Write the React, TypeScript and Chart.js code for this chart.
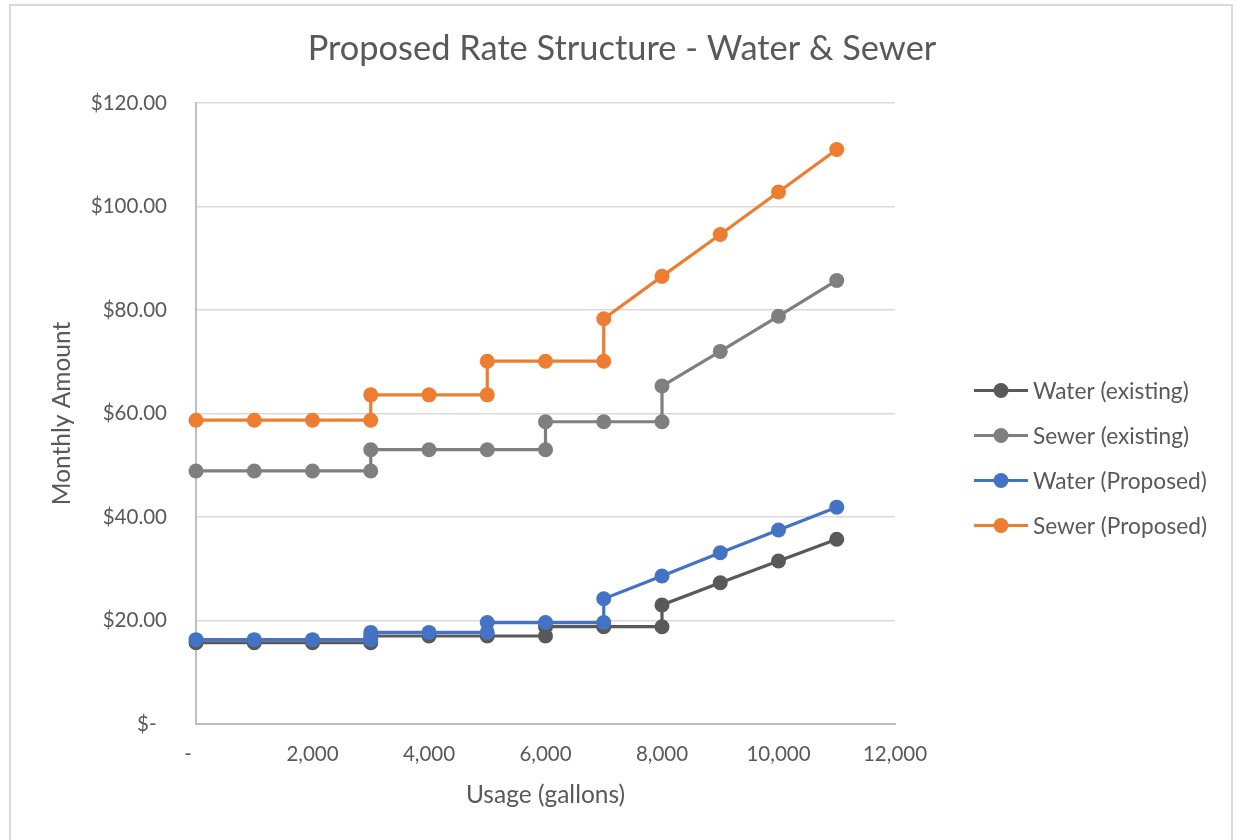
import React, { useEffect, useRef } from 'react';
import { Chart, registerables } from 'chart.js';

Chart.register(...registerables);

const chartTitle = 'Proposed Rate Structure - Water & Sewer';
const xAxisTitle = 'Usage (gallons)';
const yAxisTitle = 'Monthly Amount';

const seriesLabels = ['Water (existing)', 'Sewer (existing)', 'Water (Proposed)', 'Sewer (Proposed)'];
const seriesColors = ['#595959', '#7F7F7F', '#4472C4', '#ED7D31'];

const usageExisting = [0, 1000, 2000, 3000, 3000, 4000, 5000, 6000, 6000, 7000, 8000, 8000, 9000, 10000, 11000];
const waterExisting = [15.7, 15.7, 15.7, 15.7, 17.0, 17.0, 17.0, 17.0, 18.8, 18.8, 18.8, 23.0, 27.3, 31.5, 35.7];
const sewerExisting = [48.9, 48.9, 48.9, 48.9, 53.0, 53.0, 53.0, 53.0, 58.4, 58.4, 58.4, 65.3, 72.0, 78.8, 85.7];

const usageProposed = [0, 1000, 2000, 3000, 3000, 4000, 5000, 5000, 6000, 7000, 7000, 8000, 9000, 10000, 11000];
const waterProposed = [16.3, 16.3, 16.3, 16.3, 17.7, 17.7, 17.7, 19.6, 19.6, 19.6, 24.2, 28.6, 33.1, 37.5, 41.9];
const sewerProposed = [58.7, 58.7, 58.7, 58.7, 63.6, 63.6, 63.6, 70.1, 70.1, 70.1, 78.3, 86.5, 94.6, 102.8, 111.0];

const xMin = 0;
const xMax = 12000;
const xStep = 2000;
const yMin = 0;
const yMax = 120;
const yStep = 20;

const FONT = 'Lato';
const TEXT = '#595959';

const toPoints = (xs: number[], ys: number[]) => xs.map((x, i) => ({ x, y: ys[i] }));

const sideLegend = {
  id: 'sideLegend',
  afterDraw(chart: any) {
    const { ctx, chartArea } = chart;
    const x0 = chartArea.right + 79;
    const yMid = 458;
    const gap = 45;
    const n = chart.data.datasets.length;
    ctx.save();
    chart.data.datasets.forEach((ds: any, i: number) => {
      const y = yMid + (i - (n - 1) / 2) * gap;
      ctx.strokeStyle = ds.borderColor;
      ctx.lineWidth = 3;
      ctx.beginPath();
      ctx.moveTo(x0, y);
      ctx.lineTo(x0 + 54, y);
      ctx.stroke();
      ctx.fillStyle = ds.borderColor;
      ctx.beginPath();
      ctx.arc(x0 + 27, y, 7.5, 0, Math.PI * 2);
      ctx.fill();
      ctx.fillStyle = TEXT;
      ctx.font = `22.7px ${FONT}`;
      ctx.textAlign = 'left';
      ctx.textBaseline = 'middle';
      ctx.fillText(ds.label, x0 + 59, y + 1);
    });
    ctx.restore();
  },
};

export default function App() {
  const canvasRef = useRef<HTMLCanvasElement | null>(null);

  useEffect(() => {
    if (!canvasRef.current) return;
    const seriesData = [
      toPoints(usageExisting, waterExisting),
      toPoints(usageExisting, sewerExisting),
      toPoints(usageProposed, waterProposed),
      toPoints(usageProposed, sewerProposed),
    ];
    const chart = new Chart(canvasRef.current, {
      type: 'scatter',
      data: {
        datasets: seriesData.map((d, i) => ({
          label: seriesLabels[i],
          data: d,
          showLine: true,
          borderColor: seriesColors[i],
          backgroundColor: seriesColors[i],
          borderWidth: 3.2,
          pointRadius: 7.5,
          pointHoverRadius: 7.5,
          pointBorderWidth: 0,
          clip: false,
          order: seriesLabels.length - i,
        })),
      },
      options: {
        responsive: false,
        animation: false,
        events: [],
        layout: { padding: { left: 8, right: 0, top: 0, bottom: 0 } },
        plugins: {
          legend: { display: false },
          tooltip: { enabled: false },
          title: {
            display: true,
            text: chartTitle,
            color: TEXT,
            font: { family: FONT, size: 34.4, weight: 'normal' },
            padding: { top: 28, bottom: 33.7 },
          },
        },
        scales: {
          x: {
            type: 'linear',
            min: xMin,
            max: xMax,
            ticks: {
              stepSize: xStep,
              color: TEXT,
              font: { family: FONT, size: 20.5 },
              padding: 18,
              maxRotation: 0,
              callback: (v: any) => (Number(v) === 0 ? '-   ' : Number(v).toLocaleString('en-US')),
            },
            grid: { display: false, drawTicks: false },
            border: { display: true, color: '#BFBFBF', width: 2 },
            title: {
              display: true,
              text: xAxisTitle,
              color: TEXT,
              font: { family: FONT, size: 24.5 },
              padding: { top: 0, bottom: 30.3 },
            },
            afterFit: (scale: any) => {
              scale.height = 116;
            },
          },
          y: {
            type: 'linear',
            min: yMin,
            max: yMax,
            ticks: {
              stepSize: yStep,
              color: TEXT,
              font: { family: FONT, size: 20.5 },
              padding: 29,
              callback: (v: any) => (Number(v) === 0 ? '$-  ' : '$' + Number(v).toFixed(2)),
            },
            grid: { color: '#D9D9D9', lineWidth: 1.5, drawTicks: false },
            border: { display: true, color: '#BFBFBF', width: 2 },
            title: {
              display: true,
              text: yAxisTitle,
              color: TEXT,
              font: { family: FONT, size: 24.5 },
              padding: { top: 39.3, bottom: 0 },
            },
            afterFit: (scale: any) => {
              scale.width = 188;
            },
          },
          legendSpace: {
            type: 'linear',
            position: 'right',
            display: true,
            ticks: { display: false },
            grid: { display: false, drawTicks: false },
            border: { display: false },
            afterFit: (scale: any) => {
              scale.width = 341;
            },
          },
        },
      },
      plugins: [sideLegend],
    } as any);
    return () => chart.destroy();
  }, []);

  return (
    <div style={{ position: 'fixed', inset: 0, overflow: 'hidden', background: '#ffffff' }}>
      <div
        style={{
          position: 'absolute',
          left: 9,
          top: 4,
          width: 1220,
          height: 880,
          border: '2px solid #D9D9D9',
        }}
      />
      <canvas
        ref={canvasRef}
        width={1236}
        height={840}
        style={{ position: 'absolute', left: 0, top: 0, width: 1236, height: 840 }}
      />
    </div>
  );
}
